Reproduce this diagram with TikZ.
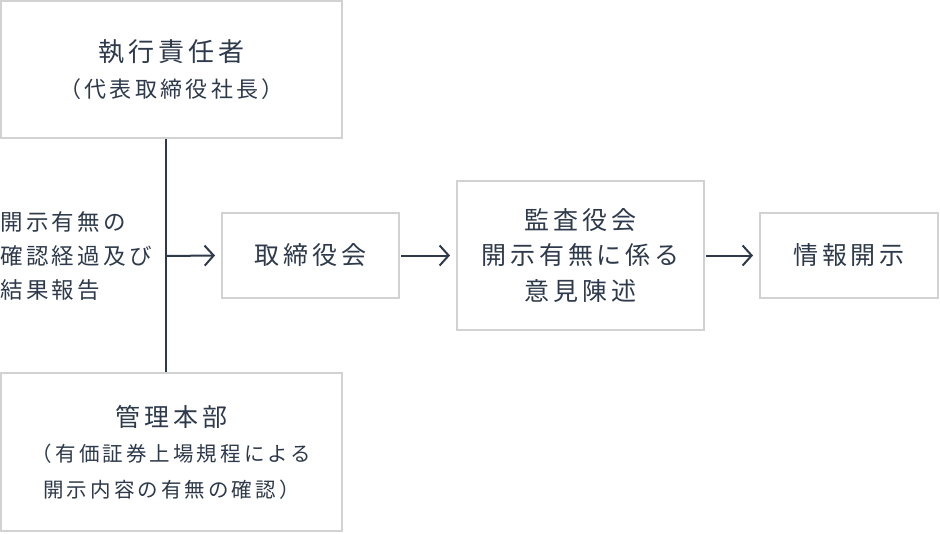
\documentclass[tikz,border=0pt]{standalone}
\usepackage{fontspec}
\usepackage{tikz}
\usetikzlibrary{arrows.meta}
\newfontfamily\jpfont{Noto Sans CJK JP}[LetterSpace=15]
\definecolor{inkblue}{HTML}{2E3A4B}
\definecolor{boxgray}{HTML}{D2D2D2}

\begin{document}
\begin{tikzpicture}[x=1pt, y=-1pt,
	box/.style={draw=boxgray, line width=2pt, fill=white, text=inkblue,
		align=center, inner sep=0pt, font=\jpfont\fontsize{25}{35.5}\selectfont},
	flow/.style={draw=inkblue, line width=2pt},
	arr/.style={flow, -{Straight Barb[length=9pt, width=20pt, line width=2pt]}}]
	\useasboundingbox (0,0) rectangle (940,533);
	% left column
	\node[box, minimum width=341pt, minimum height=137pt] (exec) at (171.5,69.5)
		{{\fontsize{26}{36}\selectfont 執行責任者}\\[0pt]{\fontsize{22}{36}\selectfont （代表取締役社長）}};
	\node[box, minimum width=341pt, minimum height=158pt] (admin) at (171.5,452)
		{管理本部\\{\fontsize{20.5}{35}\selectfont （有価証券上場規程による}\\
		{\fontsize{20.5}{35}\selectfont 開示内容の有無の確認）}};
	\coordinate (top) at ([xshift=-6pt]exec.south);
	\coordinate (bottom) at ([xshift=-6pt]admin.north);
	\draw[flow] (top) -- (bottom);
	\coordinate (tap) at (top |- 0,256);
	\node[text=inkblue, align=left, anchor=west, inner sep=0pt,
		font=\jpfont\fontsize{22.5}{34}\selectfont] (report) at (0,256)
		{開示有無の\\確認経過及び\\結果報告};
	% main row
	\node[box, minimum width=177pt, minimum height=85pt] (board) at (310.5,255.5) {取締役会};
	\node[box, minimum width=247pt, minimum height=149pt] (audit) at (580.5,255.5)
		{監査役会\\開示有無に係る\\意見陳述};
	\node[box, minimum width=178pt, minimum height=85pt] (disclose) at (849,255.5) {情報開示};
	\draw[arr] (tap) -- ([xshift=-6pt]board.west);
	\draw[arr] ([xshift=1pt]board.east) -- ([xshift=-6pt]audit.west);
	\draw[arr] ([xshift=1pt]audit.east) -- ([xshift=-6pt]disclose.west);
\end{tikzpicture}
\end{document}
